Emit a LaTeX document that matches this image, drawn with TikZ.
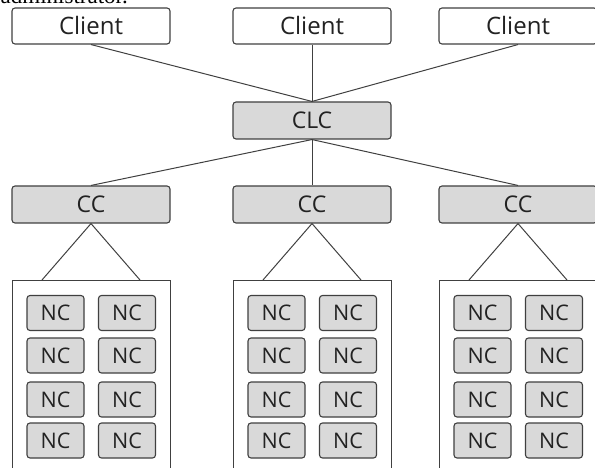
\documentclass[tikz,border=0pt]{standalone}
\usepackage{fontspec}
\setmainfont{Open Sans}
\newfontfamily\serifcap{Liberation Serif}
\usetikzlibrary{calc}
\definecolor{edge}{HTML}{404040}
\definecolor{boxfill}{HTML}{D9D9D9}
\definecolor{ink}{HTML}{222222}
\begin{document}
\begin{tikzpicture}[x=1pt,y=-1pt,
  base/.style={draw=edge,line width=1.1pt,rounded corners=3pt,text=ink,inner sep=0pt},
  client/.style={base,fill=white,minimum width=158pt,minimum height=36pt,font=\fontsize{24}{24}\selectfont},
  ctrl/.style={base,fill=boxfill,minimum width=158pt,minimum height=37pt,font=\fontsize{23}{23}\selectfont},
  ncbox/.style={base,fill=boxfill,minimum width=57pt,minimum height=35pt,font=\fontsize{21.5}{21.5}\selectfont},
  panel/.style={draw=edge,line width=1.1pt,fill=white,minimum width=158pt,minimum height=260pt,inner sep=0pt,anchor=north west},
  link/.style={draw=edge,line width=1pt}]
\useasboundingbox (0,0) rectangle (595,468);
\clip (0,0) rectangle (595,468);

% tail of the sentence above the figure
\node[anchor=base east,inner sep=0pt,font=\serifcap\fontsize{23}{23}\selectfont,text=black] (cap) at (128,4) {administrator.};

% clients
\node[client] (cl1) at (91,26) {Client};
\node[client] (cl2) at (312,26) {Client};
\node[client] (cl3) at (518,26) {Client};

% cloud controller
\node[ctrl] (clc) at (312,120.5) {CLC};

% cluster controllers
\node[ctrl] (cc1) at (91,204.5) {CC};
\node[ctrl] (cc2) at (312,204.5) {CC};
\node[ctrl] (cc3) at (518,204.5) {CC};

\draw[link] (cl1.south) -- (clc.north);
\draw[link] (cl2.south) -- (clc.north);
\draw[link] (cl3.south) -- (clc.north);
\draw[link] (clc.south) -- (cc1.north);
\draw[link] (clc.south) -- (cc2.north);
\draw[link] (clc.south) -- (cc3.north);

% node-controller panels
\foreach \p/\x in {1/12,2/233,3/439}{
  \node[panel] (p\p) at (\x,280) {};
  \coordinate (p\p l) at ($(p\p.north west)+(30,0)$);
  \coordinate (p\p r) at ($(p\p.north west)+(128,0)$);
  \draw[link] (cc\p.south) -- (p\p l);
  \draw[link] (cc\p.south) -- (p\p r);
  \foreach \r/\y in {1/313,2/355.5,3/399.5,4/440.5}{
    \node[ncbox] (nc\p-\r-1) at ($(p\p.north west)+(43.5,\y-280)$) {NC};
    \node[ncbox] (nc\p-\r-2) at ($(p\p.north west)+(115,\y-280)$) {NC};
  }
}
\end{tikzpicture}
\end{document}
